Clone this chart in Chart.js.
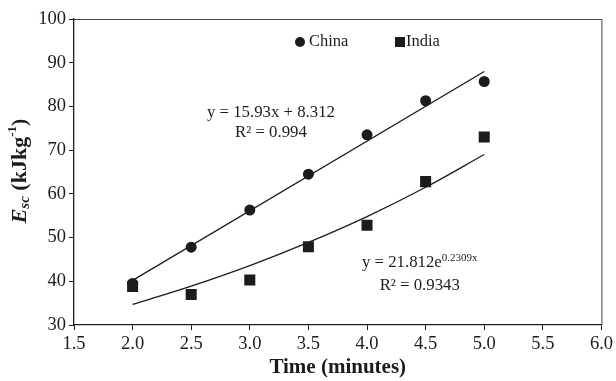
<!DOCTYPE html>
<html>
<head>
<meta charset="utf-8">
<script src="https://cdn.jsdelivr.net/npm/chart.js@4/dist/chart.umd.min.js"></script>
<style>
    html, body { margin: 0; padding: 0; background: #fff; }
</style>
</head>
<body>
<canvas id="escChart" width="616" height="381"></canvas>
<script>
// Specific energy consumption vs. time
const timeMinutes = [2.0, 2.5, 3.0, 3.5, 4.0, 4.5, 5.0];
const chinaEsc = [39.5, 47.8, 56.3, 64.5, 73.5, 81.3, 85.7];
const indiaEsc = [38.8, 37.0, 40.3, 47.9, 52.8, 62.8, 73.0];

// Trendlines as printed on the figure (linear for China, exponential for India)
const chinaFitX = [2.0, 5.0];
const chinaFitY = [40.2, 88.0];
const indiaFitX = [2.0, 2.5, 3.0, 3.5, 4.0, 4.5, 5.0];
const indiaFitY = [34.7, 38.9, 43.6, 48.9, 54.8, 61.5, 69.0];

const xRange = [1.5, 6.0];
const yRange = [30, 100];

const INK = '#1c1c1c';
const SERIF = "'Liberation Serif', 'Times New Roman', serif";

function toPoints(xs, ys) {
    return xs.map((x, i) => ({ x: x, y: ys[i] }));
}

// Draw the legend, the fit equations and the y-axis label by hand,
// the figure mixes italic, subscript and superscript text.
const annotationsPlugin = {
    id: 'annotations',
    afterDraw(chart) {
        const ctx = chart.ctx;
        const area = chart.chartArea;
        const xs = chart.scales.x;
        const ys = chart.scales.y;
        ctx.save();

        // top and right frame lines
        ctx.strokeStyle = '#444';
        ctx.lineWidth = 1;
        ctx.beginPath();
        ctx.moveTo(area.left, area.top + 0.5);
        ctx.lineTo(area.right + 0.5, area.top + 0.5);
        ctx.lineTo(area.right + 0.5, area.bottom);
        ctx.stroke();

        ctx.fillStyle = INK;
        ctx.textBaseline = 'middle';

        // legend
        const ly = area.top + 23;
        ctx.beginPath();
        ctx.arc(area.left + 226, ly, 5, 0, Math.PI * 2);
        ctx.fill();
        ctx.fillRect(area.left + 321, ly - 5, 10, 10);
        ctx.font = '16.5px ' + SERIF;
        ctx.textAlign = 'left';
        ctx.fillText('China', area.left + 235, ly);
        ctx.fillText('India', area.left + 332, ly);

        // China fit equation
        ctx.textAlign = 'center';
        ctx.font = '16.8px ' + SERIF;
        ctx.fillText('y = 15.93x + 8.312', xs.getPixelForValue(3.18), ys.getPixelForValue(78.7));
        ctx.fillText('R\u00b2 = 0.994', xs.getPixelForValue(3.18), ys.getPixelForValue(74.1));

        // India fit equation with superscript exponent
        const cx = xs.getPixelForValue(4.45);
        const cy = ys.getPixelForValue(44.2);
        const base = 'y = 21.812e';
        const wBase = ctx.measureText(base).width;
        ctx.font = '11px ' + SERIF;
        const sup = '0.2309x';
        const wSup = ctx.measureText(sup).width;
        let sx = cx - (wBase + wSup) / 2;
        ctx.textAlign = 'left';
        ctx.font = '16.8px ' + SERIF;
        ctx.fillText(base, sx, cy);
        ctx.font = '11px ' + SERIF;
        ctx.fillText(sup, sx + wBase, cy - 5);
        ctx.font = '16.8px ' + SERIF;
        ctx.textAlign = 'center';
        ctx.fillText('R\u00b2 = 0.9343', xs.getPixelForValue(4.45), ys.getPixelForValue(39.1));

        // y-axis title: E_sc (kJkg^-1)
        const parts = [
            { t: 'E', f: 'italic bold 22px ', dy: 0 },
            { t: 'sc', f: 'italic bold 15px ', dy: 5 },
            { t: ' (kJkg', f: 'bold 22px ', dy: 0 },
            { t: '-1', f: 'bold 13px ', dy: -7 },
            { t: ')', f: 'bold 22px ', dy: 0 }
        ];
        let total = 0;
        parts.forEach(p => {
            ctx.font = p.f + SERIF;
            p.w = ctx.measureText(p.t).width;
            total += p.w;
        });
        ctx.translate(20, 171);
        ctx.rotate(-Math.PI / 2);
        ctx.textAlign = 'left';
        let px = -total / 2;
        parts.forEach(p => {
            ctx.font = p.f + SERIF;
            ctx.fillText(p.t, px, p.dy);
            px += p.w;
        });

        ctx.restore();
    }
};

function initChart() {
    const ctx = document.getElementById('escChart').getContext('2d');

    new Chart(ctx, {
        type: 'scatter',
        data: {
            datasets: [
                {
                    label: 'China',
                    data: toPoints(timeMinutes, chinaEsc),
                    pointStyle: 'circle',
                    pointRadius: 5.5,
                    backgroundColor: INK,
                    borderColor: INK,
                    borderWidth: 0
                },
                {
                    label: 'India',
                    data: toPoints(timeMinutes, indiaEsc),
                    pointStyle: 'rect',
                    pointRadius: 7.8,
                    backgroundColor: INK,
                    borderColor: INK,
                    borderWidth: 0
                },
                {
                    label: 'China fit',
                    data: toPoints(chinaFitX, chinaFitY),
                    showLine: true,
                    pointRadius: 0,
                    borderColor: INK,
                    borderWidth: 1.3
                },
                {
                    label: 'India fit',
                    data: toPoints(indiaFitX, indiaFitY),
                    showLine: true,
                    pointRadius: 0,
                    borderColor: INK,
                    borderWidth: 1.3,
                    cubicInterpolationMode: 'monotone'
                }
            ]
        },
        options: {
            responsive: false,
            animation: false,
            layout: { padding: { top: 19, right: 12, left: 0, bottom: 0 } },
            plugins: {
                legend: { display: false },
                tooltip: { enabled: false }
            },
            scales: {
                x: {
                    type: 'linear',
                    min: xRange[0],
                    max: xRange[1],
                    afterFit: scale => { scale.height = 56; },
                    ticks: {
                        stepSize: 0.5,
                        color: INK,
                        padding: 3,
                        font: { family: SERIF, size: 18.5 },
                        callback: v => v.toFixed(1)
                    },
                    grid: { drawOnChartArea: false, tickLength: 5, color: INK },
                    border: { color: INK, width: 1.3 },
                    title: {
                        display: true,
                        text: 'Time (minutes)',
                        color: INK,
                        padding: { top: 0, bottom: 1 },
                        font: { family: SERIF, size: 21, weight: 'bold' }
                    }
                },
                y: {
                    min: yRange[0],
                    max: yRange[1],
                    afterFit: scale => { scale.width = 74; },
                    ticks: {
                        stepSize: 10,
                        color: INK,
                        padding: 3,
                        font: { family: SERIF, size: 18.5 }
                    },
                    grid: { drawOnChartArea: false, tickLength: 5, color: INK },
                    border: { color: INK, width: 1.3 }
                }
            }
        },
        plugins: [annotationsPlugin]
    });
}

document.addEventListener('DOMContentLoaded', initChart);
</script>
</body>
</html>
